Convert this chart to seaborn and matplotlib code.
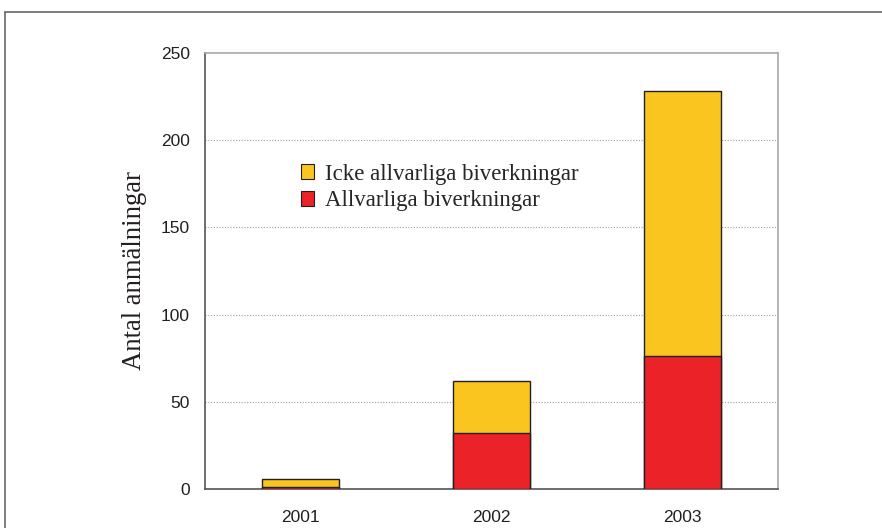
import matplotlib
matplotlib.use("Agg")
import matplotlib.pyplot as plt
import seaborn as sns
import pandas as pd
from matplotlib.lines import Line2D
from matplotlib.patches import Patch

years = ["2001", "2002", "2003"]
serious = [1, 32, 76]
non_serious = [5, 30, 152]
yticks = [0, 50, 100, 150, 200, 250]
legend_labels = ["Icke allvarliga biverkningar", "Allvarliga biverkningar"]
ylabel = "Antal anmälningar"

yellow = "#F9C51E"
red = "#EC2229"
edge = "#231F20"

sns.set_style("white")
plt.rcParams["font.family"] = ["Liberation Sans", "DejaVu Sans"]

totals = [s + n for s, n in zip(serious, non_serious)]
df = pd.DataFrame({"year": years, "serious": serious, "total": totals})

fig = plt.figure(figsize=(8.82, 5.28), dpi=100)
ax = fig.add_axes([205 / 882, 39 / 528, 573 / 882, 436 / 528])

for y in yticks[1:-1]:
    ax.axhline(y, color="#A0A0A0", lw=0.8, ls=(0, (1, 1.5)), zorder=0)

sns.barplot(data=df, x="year", y="total", color=yellow, width=0.4,
            edgecolor=edge, linewidth=1.0, saturation=1, ax=ax)
n_first = len(ax.patches)
sns.barplot(data=df, x="year", y="serious", color=red, width=0.4,
            edgecolor=edge, linewidth=1.0, saturation=1, ax=ax)
for i, p in enumerate(ax.patches):
    p.set_zorder(2 if i < n_first else 3)

ax.set_xlim(-0.5, 2.5)
ax.set_ylim(0, 250)
ax.set_yticks(yticks)
ax.set_xlabel("")
ax.set_ylabel(ylabel, family=["Liberation Serif"], fontsize=19.2, labelpad=10,
              color="#231F20")

ax.set_xticks([0, 1, 2])
ax.set_xticklabels(years)
ax.set_xticks([-0.5, 0.5, 1.5, 2.5], minor=True)
ax.tick_params(axis="x", which="major", length=0, labelsize=12.5, pad=15, labelcolor="#231F20")
ax.tick_params(axis="x", which="minor", length=5, width=1, color="#555555", direction="out")
ax.tick_params(axis="y", which="major", length=5, width=1, color="#555555", direction="out",
               labelsize=12.5, pad=6, labelcolor="#231F20")

for side in ["left", "bottom"]:
    ax.spines[side].set_color("#555555")
    ax.spines[side].set_linewidth(1.2)
for side in ["top", "right"]:
    ax.spines[side].set_visible(True)
    ax.spines[side].set_color("#A8A8A8")
    ax.spines[side].set_linewidth(1.2)

handles = [Patch(facecolor=yellow, edgecolor=edge, linewidth=0.8),
           Patch(facecolor=red, edgecolor=edge, linewidth=0.8)]
ax.legend(handles, legend_labels, loc="upper left", bbox_to_anchor=(0.167, 0.746),
          frameon=False, prop={"family": "Liberation Serif", "size": 16.5},
          handlelength=0.6, handleheight=0.6, handletextpad=0.45, labelspacing=0.25,
          borderaxespad=0, borderpad=0)

# outer frame
fig.add_artist(Line2D([5 / 882, 1.0], [1 - 12 / 528, 1 - 12 / 528], color="#666666", lw=1.2))
fig.add_artist(Line2D([5 / 882, 5 / 882], [0, 1 - 12 / 528], color="#666666", lw=1.2))

fig.savefig("out.png", dpi=100)
